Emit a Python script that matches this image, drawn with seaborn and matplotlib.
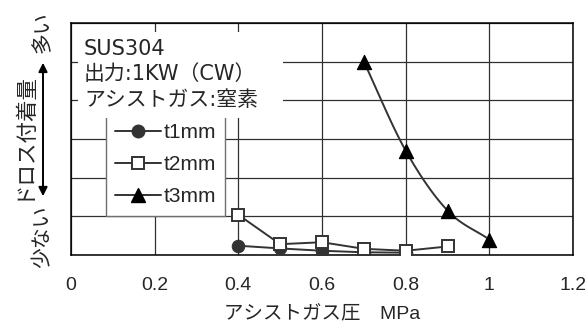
import numpy as np
import pandas as pd
import matplotlib
matplotlib.use("Agg")
import matplotlib.pyplot as plt
from matplotlib.lines import Line2D
from matplotlib.patches import Rectangle, FancyArrowPatch
import seaborn as sns

sns.set_theme(style="white")
plt.rcParams["font.family"] = ["Noto Sans CJK JP", "DejaVu Sans"]

# Assist gas pressure (MPa) and relative dross adhesion per sheet thickness
t1_pressure = [0.4, 0.5, 0.6, 0.7, 0.8]
t1_dross = [0.24, 0.17, 0.11, 0.07, 0.06]
t2_pressure = [0.4, 0.5, 0.6, 0.7, 0.8, 0.9]
t2_dross = [1.04, 0.28, 0.33, 0.16, 0.11, 0.22]
t3_pressure = [0.7, 0.8, 0.9, 1.0]
t3_dross = [5.0, 2.7, 1.15, 0.4]

x_ticks = [0, 0.2, 0.4, 0.6, 0.8, 1.0, 1.2]
x_tick_labels = ["0", "0.2", "0.4", "0.6", "0.8", "1", "1.2"]

series_labels = ["t1mm", "t2mm", "t3mm"]
info_lines = ["SUS304", "出力:1KW（CW）", "アシストガス:窒素"]

latin_first = ["Liberation Sans", "Noto Sans CJK JP"]
wide_latin = ["DejaVu Sans", "Noto Sans CJK JP"]


def catmull_rom(xs, ys, n=30):
    """Smooth curve through the points (Catmull-Rom spline)."""
    p = np.column_stack([xs, ys]).astype(float)
    p = np.vstack([2 * p[0] - p[1], p, 2 * p[-1] - p[-2]])
    out = []
    t = np.linspace(0, 1, n)[:, None]
    for i in range(1, len(p) - 2):
        p0, p1, p2, p3 = p[i - 1], p[i], p[i + 1], p[i + 2]
        seg = 0.5 * ((2 * p1) + (-p0 + p2) * t
                     + (2 * p0 - 5 * p1 + 4 * p2 - p3) * t ** 2
                     + (-p0 + 3 * p1 - 3 * p2 + p3) * t ** 3)
        out.append(seg if i == 1 else seg[1:])
    out = np.vstack(out)
    return out[:, 0], out[:, 1]


fig = plt.figure(figsize=(5.85, 3.25), dpi=100)
ax = fig.add_axes([71 / 585, 70 / 325, 502 / 585, 232 / 325])

line_c = "#333333"
df1 = pd.DataFrame({"p": t1_pressure, "d": t1_dross})
df2 = pd.DataFrame({"p": t2_pressure, "d": t2_dross})
df3 = pd.DataFrame({"p": t3_pressure, "d": t3_dross})

sns.lineplot(data=df1, x="p", y="d", ax=ax, color=line_c, lw=1.4,
             marker="o", markersize=9, markerfacecolor="#333333",
             markeredgecolor="#333333", zorder=4)
sns.lineplot(data=df2, x="p", y="d", ax=ax, color=line_c, lw=1.4,
             marker="s", markersize=9, markerfacecolor="white",
             markeredgecolor="#333333", markeredgewidth=1.4, zorder=5)
sx, sy = catmull_rom(t3_pressure, t3_dross)
sns.lineplot(x=sx, y=sy, ax=ax, color=line_c, lw=1.4, sort=False,
             estimator=None, zorder=4)
sns.scatterplot(data=df3, x="p", y="d", ax=ax, marker="^", s=105,
                color="black", edgecolor="black", zorder=6)

ax.set_xlim(0, 1.2)
ax.set_ylim(0, 6)
ax.set_xticks(x_ticks)
ax.set_xticklabels(x_tick_labels, family=latin_first, fontsize=14)
ax.set_yticks(range(0, 7))
ax.set_yticklabels([])
ax.tick_params(axis="both", length=0)
ax.tick_params(axis="x", pad=16)
ax.grid(True, color="#303030", lw=0.9)
ax.set_axisbelow(True)
for s in ax.spines.values():
    s.set_color("black")
    s.set_linewidth(1.1)
ax.set_xlabel("アシストガス圧　MPa", fontsize=14, labelpad=8,
              family=latin_first)
ax.set_ylabel("")

# White info panel with the material and laser settings
ax.add_patch(Rectangle((7 / 502, 137 / 232), 205 / 502, 86 / 232,
                       transform=ax.transAxes, facecolor="white",
                       edgecolor="none", zorder=7))
for i, txt in enumerate(info_lines):
    ax.text(13 / 502, (255 - 49 - 25.5 * i) / 232, txt,
            transform=ax.transAxes, fontsize=15, va="center", ha="left",
            family=wide_latin, zorder=8)

handles = [
    Line2D([], [], color=line_c, lw=1.4, marker="o", markersize=9,
           markerfacecolor="#333333", markeredgecolor="#333333"),
    Line2D([], [], color=line_c, lw=1.4, marker="s", markersize=9,
           markerfacecolor="white", markeredgecolor="#333333",
           markeredgewidth=1.4),
    Line2D([], [], color=line_c, lw=1.4, marker="^", markersize=10,
           markerfacecolor="black", markeredgecolor="black"),
]
leg = ax.legend(handles, series_labels, loc="upper left",
                bbox_to_anchor=(35 / 502, 141 / 232), frameon=True,
                fancybox=False, edgecolor="#707070", framealpha=1,
                prop={"family": latin_first, "size": 15},
                handlelength=2.2, handletextpad=0.1,
                labelspacing=0.62, borderpad=0.45, borderaxespad=0)
leg.get_frame().set_linewidth(1.0)
leg.set_zorder(6)

# Vertical axis description with double-headed arrow
fig.text(43 / 585, 1 - 32 / 325, "多い", rotation=90, fontsize=15,
         ha="center", va="center")
fig.text(23 / 585, 1 - 136 / 325, "ドロス付着量", rotation=90, fontsize=15.5,
         ha="center", va="center")
fig.text(43 / 585, 1 - 237 / 325, "少ない", rotation=90, fontsize=15,
         ha="center", va="center")
fig.add_artist(FancyArrowPatch(
    (43 / 585, 1 - 199 / 325), (43 / 585, 1 - 60 / 325),
    transform=fig.transFigure, arrowstyle="<|-|>", mutation_scale=13,
    color="black", lw=1.4))

fig.savefig("out.png", dpi=100)
